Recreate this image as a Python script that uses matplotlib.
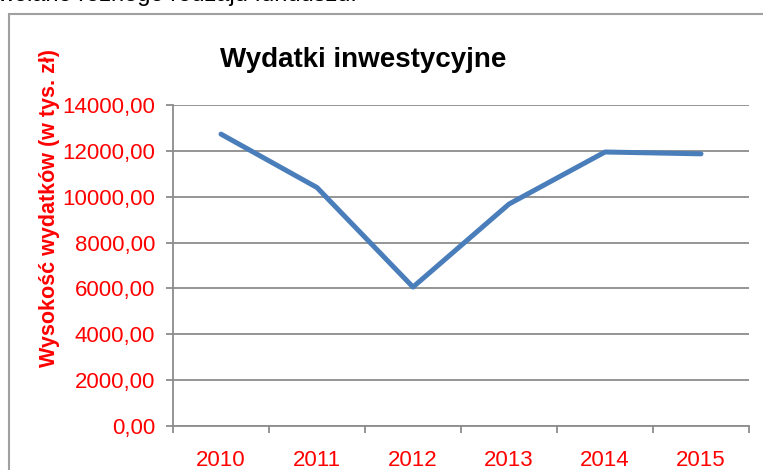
import matplotlib
matplotlib.use('Agg')
import matplotlib.pyplot as plt
from matplotlib.patches import Rectangle
from matplotlib.ticker import FixedLocator, FuncFormatter

plt.rcParams['font.family'] = ['Liberation Sans', 'DejaVu Sans']

# dane
lata = ['2010', '2011', '2012', '2013', '2014', '2015']
wydatki = [12730, 10400, 6060, 9680, 11950, 11870]
y_ticks = [0, 2000, 4000, 6000, 8000, 10000, 12000, 14000]

W, H = 763, 470
fig = plt.figure(figsize=(W / 100, H / 100), dpi=100)
ax = fig.add_axes([173 / W, (H - 426) / H, (749 - 173) / W, (426 - 105) / H])

grey = '#8c8c8c'
red = '#ff0000'

xs = [i + 0.5 for i in range(len(lata))]
ax.plot(xs, wydatki, color='#4a7ebb', lw=3.6, solid_capstyle='round', solid_joinstyle='round', zorder=3)

ax.set_xlim(0, len(lata))
ax.set_ylim(0, 14000)

# os X: kreski na granicach kategorii, etykiety na srodku
ax.xaxis.set_major_locator(FixedLocator(list(range(len(lata) + 1))))
ax.xaxis.set_minor_locator(FixedLocator(xs))
ax.set_xticklabels([''] * (len(lata) + 1))
ax.set_xticklabels(lata, minor=True)
ax.tick_params(axis='x', which='major', length=5, width=1.3, color=grey, direction='out')
ax.tick_params(axis='x', which='minor', length=0, pad=17, labelsize=16, labelcolor=red)


def fmt(v, p):
    return '%d,00' % v


ax.yaxis.set_major_locator(FixedLocator(y_ticks))
ax.yaxis.set_major_formatter(FuncFormatter(fmt))
ax.tick_params(axis='y', length=5, width=1.3, color=grey, direction='out', pad=8,
               labelsize=16, labelcolor=red)

ax.grid(axis='y', color=grey, lw=1.3)
ax.set_axisbelow(True)
for s in ['top', 'right']:
    ax.spines[s].set_visible(False)
for s in ['left', 'bottom']:
    ax.spines[s].set_color(grey)
    ax.spines[s].set_linewidth(1.3)

fig.text(50 / W, 1 - 208 / H, 'Wysokość wydatków (w tys. zł)', rotation=90,
         ha='center', va='center', color=red, fontsize=15.5, fontweight='bold')
fig.text(363 / W, 1 - 67 / H, 'Wydatki inwestycyjne', ha='center', va='baseline',
         fontsize=20, fontweight='bold', color='black')

# obramowanie obszaru wykresu
fig.add_artist(Rectangle((9 / W, -0.1), 1.0, 1 - 13.5 / H + 0.1, transform=fig.transFigure,
                         fill=False, edgecolor='#a0a0a0', lw=1.5, clip_on=False))

# fragment tekstu nad wykresem
fig.text(-3 / W, 1 - 1.5 / H, 'wołano różnego rodzaju funduszu.', ha='left', va='baseline',
         fontsize=17, color='black')

fig.savefig('out.png', dpi=100)
